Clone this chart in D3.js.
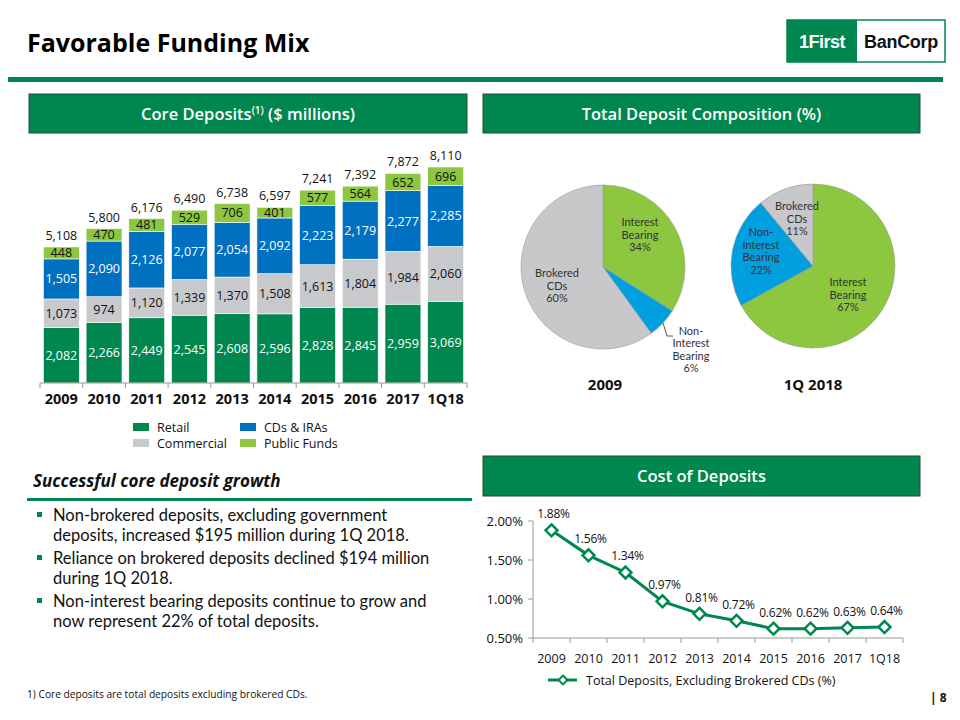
<!DOCTYPE html>
<html><head><meta charset="utf-8">
<script src="https://cdn.jsdelivr.net/npm/d3@7"></script>
<style>
html,body{margin:0;padding:0;background:#fff;}
svg{display:block;font-family:"Open Sans","DejaVu Sans",sans-serif;}
</style></head>
<body>
<svg id="c" width="960" height="720"></svg>
<script>
// ---------- DATA ----------
const years = ['2009','2010','2011','2012','2013','2014','2015','2016','2017','1Q18'];
const retail = [2082,2266,2449,2545,2608,2596,2828,2845,2959,3069];
const commercial = [1073,974,1120,1339,1370,1508,1613,1804,1984,2060];
const cdsIras = [1505,2090,2126,2077,2054,2092,2223,2179,2277,2285];
const publicFunds = [448,470,481,529,706,401,577,564,652,696];
const totals = [5108,5800,6176,6490,6738,6597,7241,7392,7872,8110];
const seriesNames = ['Retail','Commercial','CDs & IRAs','Public Funds'];

const pieCategories = ['Interest Bearing','Non-Interest Bearing','Brokered CDs'];
const pie2009 = [34,6,60];
const pie1Q18 = [67,22,11];

const costYears = ['2009','2010','2011','2012','2013','2014','2015','2016','2017','1Q18'];
const costValues = [1.88,1.56,1.34,0.97,0.81,0.72,0.62,0.62,0.63,0.64];
const costTicks = [0.5,1.0,1.5,2.0];

const bullets = [
 ['Non-brokered deposits, excluding government','deposits, increased $195 million during 1Q 2018.'],
 ['Reliance on brokered deposits declined $194 million','during 1Q 2018.'],
 ['Non-interest bearing deposits continue to grow and','now represent 22% of total deposits.']
];

// ---------- STYLE ----------
const GREEN = '#00874F';
const C_RETAIL = '#00874F', C_COMM = '#C8C9CC', C_CDS = '#0070C0', C_PF = '#8DC63F';
const P_GREEN = '#8DC63F', P_BLUE = '#00A0DF', P_GRAY = '#C8C8CA';

const svg = d3.select('#c');

// ---------- HEADER ----------
svg.append('text').attr('x',27).attr('y',52).attr('font-size',25).attr('font-weight',700)
  .attr('fill','#000').text('Favorable Funding Mix');
svg.append('rect').attr('x',8).attr('y',77).attr('width',935).attr('height',5).attr('fill',GREEN);
// logo
svg.append('rect').attr('x',787).attr('y',20).attr('width',158).attr('height',42).attr('fill','#fff').attr('stroke',GREEN).attr('stroke-width',1.5);
svg.append('rect').attr('x',787).attr('y',20).attr('width',70).attr('height',42).attr('fill',GREEN);
svg.append('text').attr('x',822).attr('y',48).attr('text-anchor','middle').attr('font-family','"Liberation Sans",Arial,sans-serif')
  .attr('font-weight',700).attr('font-size',18).attr('fill','#fff').attr('letter-spacing',-0.5).text('1First');
svg.append('text').attr('x',901).attr('y',48).attr('text-anchor','middle').attr('font-family','"Liberation Sans",Arial,sans-serif')
  .attr('font-weight',700).attr('font-size',18).attr('fill','#111').attr('letter-spacing',-0.3).text('BanCorp');

// section header boxes
function headerBox(x,y,w,h,build){
  svg.append('rect').attr('x',x).attr('y',y).attr('width',w).attr('height',h).attr('fill',GREEN).attr('stroke','#234a33').attr('stroke-width',1);
  const t = svg.append('text').attr('x',x+w/2).attr('y',y+h/2+6).attr('text-anchor','middle')
    .attr('font-size',16.5).attr('font-weight',600).attr('fill','#fff');
  build(t);
}
headerBox(29,94,438,39,t=>{
  t.append('tspan').text('Core Deposits');
  t.append('tspan').attr('font-size',10).attr('dy',-6).text('(1)');
  t.append('tspan').attr('dy',6).text(' ($ millions)');
});
headerBox(483,94,437,39,t=>t.text('Total Deposit Composition (%)'));
headerBox(483,456,437,40,t=>t.text('Cost of Deposits'));

// ---------- BAR CHART ----------
const xb = d3.scaleBand().domain(years).range([40,467]).paddingInner(0.16).paddingOuter(0.08);
const yb = d3.scaleLinear().domain([0,8110]).range([383,167]);
const stackData = years.map((y,i)=>({year:y,'Retail':retail[i],'Commercial':commercial[i],'CDs & IRAs':cdsIras[i],'Public Funds':publicFunds[i]}));
const stacked = d3.stack().keys(seriesNames)(stackData);
const barColors = {'Retail':C_RETAIL,'Commercial':C_COMM,'CDs & IRAs':C_CDS,'Public Funds':C_PF};
const labelColors = {'Retail':'#fff','Commercial':'#111','CDs & IRAs':'#fff','Public Funds':'#111'};
const fmt = d3.format(',');
const gBar = svg.append('g');
stacked.forEach(s=>{
  const g = gBar.append('g');
  g.selectAll('rect').data(s).join('rect')
    .attr('x',d=>xb(d.data.year)).attr('width',xb.bandwidth())
    .attr('y',d=>yb(d[1])).attr('height',d=>yb(d[0])-yb(d[1]))
    .attr('fill',barColors[s.key]).attr('stroke','#fff').attr('stroke-width',0.6);
  g.selectAll('text').data(s).join('text')
    .attr('x',d=>xb(d.data.year)+xb.bandwidth()/2)
    .attr('y',d=>(yb(d[0])+yb(d[1]))/2+4.5)
    .attr('text-anchor','middle').attr('font-size',12.5).attr('fill',labelColors[s.key])
    .text(d=>fmt(d[1]-d[0]));
});
gBar.selectAll('text.tot').data(years).join('text').attr('class','tot')
  .attr('x',d=>xb(d)+xb.bandwidth()/2).attr('y',(d,i)=>yb(totals[i])-7)
  .attr('text-anchor','middle').attr('font-size',12.5).attr('fill','#111').text((d,i)=>fmt(totals[i]));
// axis
const axB = svg.append('g').attr('transform','translate(0,383)');
axB.append('line').attr('x1',40).attr('x2',467).attr('stroke','#999');
const stepB = xb.step();
const tickXs = years.map(y=>xb(y)-stepB*xb.paddingInner()/2).concat([467]);
tickXs[0]=40;
axB.selectAll('line.t').data(tickXs).join('line').attr('class','t')
  .attr('x1',d=>d).attr('x2',d=>d).attr('y1',0).attr('y2',5).attr('stroke','#999');
axB.selectAll('text').data(years).join('text')
  .attr('x',d=>xb(d)+xb.bandwidth()/2).attr('y',21).attr('text-anchor','middle')
  .attr('font-size',14.5).attr('font-weight',700).attr('fill','#111').text(d=>d);
// legend
const legItems = [
  {n:'Retail',c:C_RETAIL,x:133,y:427},{n:'CDs & IRAs',c:C_CDS,x:240,y:427},
  {n:'Commercial',c:C_COMM,x:133,y:443},{n:'Public Funds',c:C_PF,x:240,y:443}
];
const gl = svg.append('g');
legItems.forEach(l=>{
  gl.append('rect').attr('x',l.x).attr('y',l.y-4).attr('width',16).attr('height',8).attr('fill',l.c);
  gl.append('text').attr('x',l.x+24).attr('y',l.y+4.5).attr('font-size',12.5).attr('fill','#111').text(l.n);
});

// ---------- PIES ----------
const pieColors = [P_GREEN,P_BLUE,P_GRAY];
const pieGen = d3.pie().sort(null).value(d=>d);
const arc = d3.arc().innerRadius(0).outerRadius(82);
function drawPie(cx,cy,vals){
  const g = svg.append('g').attr('transform',`translate(${cx},${cy})`);
  const arcs = pieGen(vals);
  g.selectAll('path').data(arcs).join('path').attr('d',arc)
    .attr('fill',(d,i)=>pieColors[i]).attr('stroke','#9a9a9a').attr('stroke-width',0.6);
  return {g,arcs};
}
function multi(g,x,y,lines,lh){
  lines.forEach((l,i)=>g.append('text').attr('text-anchor','middle').attr('font-family','Lato,"Open Sans",sans-serif')
    .attr('font-size',11).attr('fill','#333').attr('x',x).attr('y',y+i*lh).text(l));
}
const p1 = drawPie(603,267,pie2009);
multi(svg,640,226,['Interest','Bearing',pie2009[0]+'%'],12.5);
multi(svg,557,277,['Brokered','CDs',pie2009[2]+'%'],12.5);
multi(svg,691,335,['Non-','Interest','Bearing',pie2009[1]+'%'],12.3);
svg.append('polyline').attr('points','663,323 667,336 673,336').attr('fill','none').attr('stroke','#555').attr('stroke-width',1);
const p2 = drawPie(813,266,pie1Q18);
multi(svg,797,210,['Brokered','CDs',pie1Q18[2]+'%'],12.5);
multi(svg,761,236,['Non-','Interest','Bearing',pie1Q18[1]+'%'],12.5);
multi(svg,848,286,['Interest','Bearing',pie1Q18[0]+'%'],12.5);
svg.append('text').attr('x',605).attr('y',390).attr('text-anchor','middle').attr('font-size',15).attr('font-weight',700).attr('fill','#111').text('2009');
svg.append('text').attr('x',813).attr('y',390).attr('text-anchor','middle').attr('font-size',15).attr('font-weight',700).attr('fill','#111').text('1Q 2018');

// ---------- LINE CHART ----------
const xl = d3.scaleBand().domain(costYears).range([533,903]);
const yl = d3.scaleLinear().domain([0.5,2.0]).range([638,521]);
const gL = svg.append('g');
gL.append('line').attr('x1',533).attr('x2',533).attr('y1',521).attr('y2',638).attr('stroke','#999');
gL.selectAll('line.yt').data(costTicks).join('line').attr('class','yt')
  .attr('x1',528).attr('x2',533).attr('y1',d=>yl(d)).attr('y2',d=>yl(d)).attr('stroke','#999');
gL.selectAll('text.yl').data(costTicks).join('text').attr('class','yl')
  .attr('x',523).attr('y',d=>yl(d)+4.5).attr('text-anchor','end').attr('font-size',13).attr('fill','#111')
  .text(d=>d3.format('.2f')(d)+'%');
gL.append('line').attr('x1',533).attr('x2',903).attr('y1',638).attr('y2',638).attr('stroke','#999');
const lt = costYears.map(y=>xl(y)).concat([903]);
gL.selectAll('line.xt').data(lt).join('line').attr('class','xt')
  .attr('x1',d=>d).attr('x2',d=>d).attr('y1',638).attr('y2',643).attr('stroke','#999');
gL.selectAll('text.xl').data(costYears).join('text').attr('class','xl')
  .attr('x',d=>xl(d)+xl.bandwidth()/2).attr('y',663).attr('text-anchor','middle').attr('font-size',12.5).attr('fill','#111').text(d=>d);
const line = d3.line().x((d,i)=>xl(costYears[i])+xl.bandwidth()/2).y(d=>yl(d));
gL.append('path').attr('d',line(costValues)).attr('fill','none').attr('stroke',GREEN).attr('stroke-width',3);
const diamond = d3.symbol().type(d3.symbolDiamond2).size(90);
gL.selectAll('path.m').data(costValues).join('path').attr('class','m')
  .attr('transform',(d,i)=>`translate(${xl(costYears[i])+xl.bandwidth()/2},${yl(d)})`)
  .attr('d',diamond).attr('fill','#fff').attr('stroke',GREEN).attr('stroke-width',2.5);
gL.selectAll('text.v').data(costValues).join('text').attr('class','v')
  .attr('x',(d,i)=>xl(costYears[i])+xl.bandwidth()/2+2).attr('y',d=>yl(d)-12)
  .attr('text-anchor','middle').attr('font-size',12).attr('letter-spacing',-0.2).attr('fill','#111').text(d=>d3.format('.2f')(d)+'%');
// legend
gL.append('line').attr('x1',548).attr('x2',577).attr('y1',680).attr('y2',680).attr('stroke',GREEN).attr('stroke-width',3);
gL.append('path').attr('transform','translate(563,680)').attr('d',d3.symbol().type(d3.symbolDiamond2).size(50)())
  .attr('fill','#fff').attr('stroke',GREEN).attr('stroke-width',2);
gL.append('text').attr('x',586).attr('y',685).attr('font-size',12.5).attr('fill','#111').text('Total Deposits, Excluding Brokered CDs (%)');

// ---------- LEFT TEXT ----------
svg.append('text').attr('x',33).attr('y',487).attr('font-size',17).attr('font-weight',700).attr('font-style','italic')
  .attr('fill','#111').text('Successful core deposit growth');
svg.append('rect').attr('x',27).attr('y',498).attr('width',445).attr('height',3).attr('fill',GREEN);
let by = 521;
bullets.forEach(b=>{
  svg.append('rect').attr('x',37).attr('y',by-9).attr('width',5).attr('height',5).attr('fill',GREEN);
  b.forEach((l,i)=>{
    svg.append('text').attr('x',53).attr('y',by+i*19.5).attr('font-family','Lato,"Open Sans",sans-serif')
      .attr('font-size',16.5).attr('fill','#111').text(l);
  });
  by += 43;
});
svg.append('text').attr('x',27).attr('y',698).attr('font-size',10.2).attr('fill','#111').text('1) Core deposits are total deposits excluding brokered CDs.');
svg.append('text').attr('x',930).attr('y',702).attr('font-size',12).attr('font-weight',700).attr('fill','#111').text('| 8');
</script>
</body></html>
